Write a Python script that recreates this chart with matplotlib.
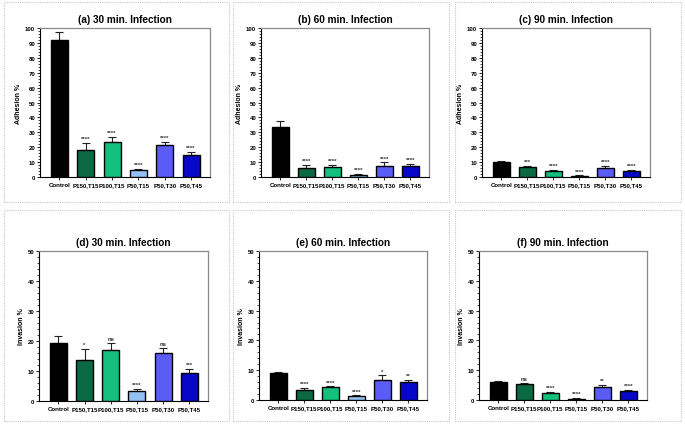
import matplotlib
matplotlib.use("Agg")
import matplotlib.pyplot as plt
from matplotlib.patches import Rectangle
from matplotlib.ticker import MultipleLocator
from matplotlib import font_manager

plt.rcParams['font.family'] = ['Liberation Sans', 'DejaVu Sans']
names = {f.name for f in font_manager.fontManager.ttflist}
tick_family = ['Liberation Sans Narrow', 'Liberation Sans'] if 'Liberation Sans Narrow' in names else ['Liberation Sans']

categories = ["Control", "P150,T15", "P100,T15", "P50,T15", "P50,T30", "P50,T45"]
colors = ["#000000", "#0b6a43", "#14c07e", "#93c1f4", "#5b5cf6", "#0707c9"]

titles = ["(a) 30 min. Infection", "(b) 60 min. Infection", "(c) 90 min. Infection",
          "(d) 30 min. Infection", "(e) 60 min. Infection", "(f) 90 min. Infection"]

adh30 = [92.0, 18.0, 23.8, 5.0, 21.8, 14.8]
adh30_err = [5.5, 5.0, 3.0, 0.7, 1.8, 2.2]
adh30_sig = ["", "****", "****", "****", "****", "****"]

adh60 = [33.5, 6.3, 7.0, 1.5, 7.7, 7.3]
adh60_err = [4.0, 1.8, 1.2, 0.5, 2.2, 1.5]
adh60_sig = ["", "****", "****", "****", "****", "****"]

adh90 = [10.3, 7.0, 4.2, 0.8, 6.2, 4.2]
adh90_err = [0.6, 0.5, 0.4, 0.3, 1.3, 0.8]
adh90_sig = ["", "***", "****", "****", "****", "****"]

inv30 = [19.5, 13.7, 17.1, 3.4, 15.9, 9.5]
inv30_err = [2.2, 3.6, 2.2, 0.6, 1.8, 1.1]
inv30_sig = ["", "*", "ns", "****", "ns", "***"]

inv60 = [9.1, 3.3, 4.2, 1.2, 6.6, 5.9]
inv60_err = [0.4, 0.7, 0.4, 0.4, 1.7, 0.8]
inv60_sig = ["", "****", "****", "****", "*", "**"]

inv90 = [6.1, 5.3, 2.5, 0.5, 4.3, 3.1]
inv90_err = [0.15, 0.5, 0.15, 0.2, 0.9, 0.3]
inv90_sig = ["", "ns", "****", "****", "**", "****"]

W, H = 685, 427
fig = plt.figure(figsize=(W / 100, H / 100), dpi=100)

# panel frames (pixels: x0, y0, x1, y1)
frames = [(4, 3, 229, 203), (233, 3, 449, 203), (455, 3, 681, 203),
          (4, 211, 229, 422), (233, 211, 449, 422), (455, 211, 681, 422)]
for x0, y0, x1, y1 in frames:
    fig.add_artist(Rectangle((x0 / W, 1 - y1 / H), (x1 - x0) / W, (y1 - y0) / H,
                             transform=fig.transFigure, fill=False,
                             edgecolor="#c8c8c8", linestyle=(0, (1, 1)), linewidth=0.8))

axes_px = [(40, 29, 210, 178), (261, 29, 429, 178), (482, 29, 650, 178),
           (39, 252, 208, 402), (259, 252, 427, 401), (479, 252, 647, 401)]

datasets = [(adh30, adh30_err, adh30_sig), (adh60, adh60_err, adh60_sig),
            (adh90, adh90_err, adh90_sig), (inv30, inv30_err, inv30_sig),
            (inv60, inv60_err, inv60_sig), (inv90, inv90_err, inv90_sig)]

for i, ((x0, y0, x1, y1), (vals, errs, sigs), title) in enumerate(zip(axes_px, datasets, titles)):
    ax = fig.add_axes([x0 / W, 1 - y1 / H, (x1 - x0) / W, (y1 - y0) / H])
    xs = list(range(len(categories)))
    ax.bar(xs, vals, width=0.65, color=colors, edgecolor="black", linewidth=1.0, zorder=3)
    ax.errorbar(xs, vals, yerr=[[0] * len(errs), errs], fmt="none", ecolor="#222222",
                elinewidth=0.8, capsize=3, capthick=0.8, zorder=2)
    ymax = 100 if i < 3 else 50
    ax.set_ylim(0, ymax)
    ax.set_xlim(-0.74, 5.72)
    ax.yaxis.set_major_locator(MultipleLocator(10))
    ax.yaxis.set_minor_locator(MultipleLocator(2))
    ax.set_xticks(xs)
    ax.set_xticklabels(categories, fontsize=4.4, fontweight="bold", family=tick_family)
    ax.tick_params(axis="y", labelsize=4.3, length=2.5, width=0.6, pad=1)
    ax.tick_params(axis="y", which="minor", length=1.3, width=0.5)
    ax.tick_params(axis="x", length=2, width=0.6, pad=1.5)
    for lab in ax.get_yticklabels():
        lab.set_fontweight("bold")
    ax.set_ylabel("Adhesion %" if i < 3 else "Invasion %", fontsize=5, fontweight="bold", labelpad=2)
    ax.set_title(title, fontsize=7.2, fontweight="bold", pad=4)
    for s in ["left", "bottom"]:
        ax.spines[s].set_color("black")
        ax.spines[s].set_linewidth(0.8)
    for s in ["top", "right"]:
        ax.spines[s].set_color("#8a8a8a")
        ax.spines[s].set_linewidth(0.9)
    for x, v, e, s in zip(xs, vals, errs, sigs):
        if s:
            ax.text(x, v + e + ymax * 0.012, s, ha="center", va="bottom", fontsize=4.3,
                    fontweight="bold", color="#333333")

fig.savefig("out.png", dpi=100, facecolor="white")
